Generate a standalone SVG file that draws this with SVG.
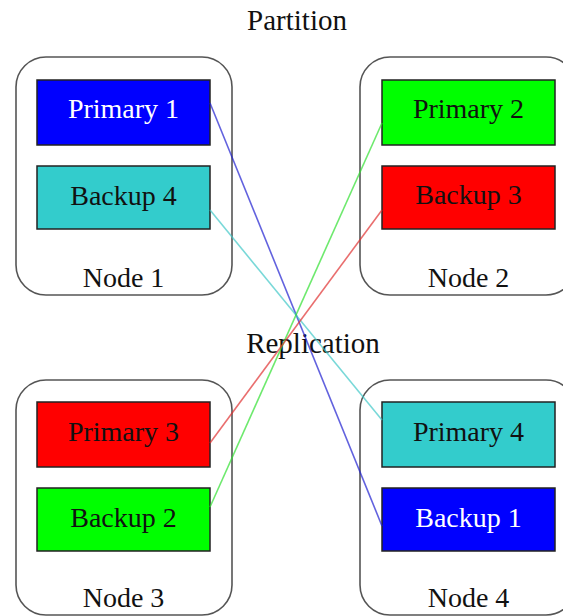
<svg xmlns="http://www.w3.org/2000/svg" width="563" height="616" viewBox="0 0 563 616">
<style>
text{font-family:"Liberation Serif","Times New Roman",serif;font-size:28px;text-anchor:middle;fill:#111}
.t{font-size:29px}
.node{fill:#fff;stroke:#555;stroke-width:1.6}
.part{stroke:#222;stroke-width:1.5}
.w{fill:#fff}
.c{fill:none;stroke-width:1.6;stroke-opacity:0.7}
</style>
<rect width="563" height="616" fill="#fff"/>
<text class="t" x="297" y="30">Partition</text>
<text class="t" x="313" y="353">Replication</text>
<g id="node1">
<rect class="node" x="16" y="57" width="216" height="238" rx="30"/>
<rect class="part" x="37" y="80" width="173" height="65" fill="#0000ff"/>
<text class="w" x="123.5" y="118">Primary 1</text>
<rect class="part" x="37" y="166" width="173" height="63" fill="#33cccc"/>
<text x="123.5" y="205">Backup 4</text>
<text x="123.5" y="287">Node 1</text>
</g>
<g id="node2">
<rect class="node" x="360" y="57" width="216" height="238" rx="30"/>
<rect class="part" x="382" y="80" width="173" height="65" fill="#00ff00"/>
<text x="468.5" y="118">Primary 2</text>
<rect class="part" x="382" y="166" width="173" height="63" fill="#ff0000"/>
<text x="468.5" y="204">Backup 3</text>
<text x="468.5" y="287">Node 2</text>
</g>
<g id="node3">
<rect class="node" x="16" y="380" width="216" height="235" rx="30"/>
<rect class="part" x="37" y="402" width="173" height="65" fill="#ff0000"/>
<text x="123.5" y="441">Primary 3</text>
<rect class="part" x="37" y="488" width="173" height="63" fill="#00ff00"/>
<text x="123.5" y="527">Backup 2</text>
<text x="123.5" y="607">Node 3</text>
</g>
<g id="node4">
<rect class="node" x="360" y="380" width="216" height="235" rx="30"/>
<rect class="part" x="382" y="402" width="173" height="65" fill="#33cccc"/>
<text x="468.5" y="441">Primary 4</text>
<rect class="part" x="382" y="488" width="173" height="63" fill="#0000ff"/>
<text class="w" x="468.5" y="527">Backup 1</text>
<text x="468.5" y="607">Node 4</text>
</g>
<g id="connectors">
<line class="c" x1="210" y1="103" x2="382" y2="526" stroke="#2020d0"/>
<line class="c" x1="210" y1="210" x2="382" y2="420" stroke="#40c8c8"/>
<line class="c" x1="210" y1="507" x2="382" y2="123" stroke="#30e030"/>
<line class="c" x1="210" y1="443" x2="382" y2="210" stroke="#e03030"/>
</g>
</svg>
